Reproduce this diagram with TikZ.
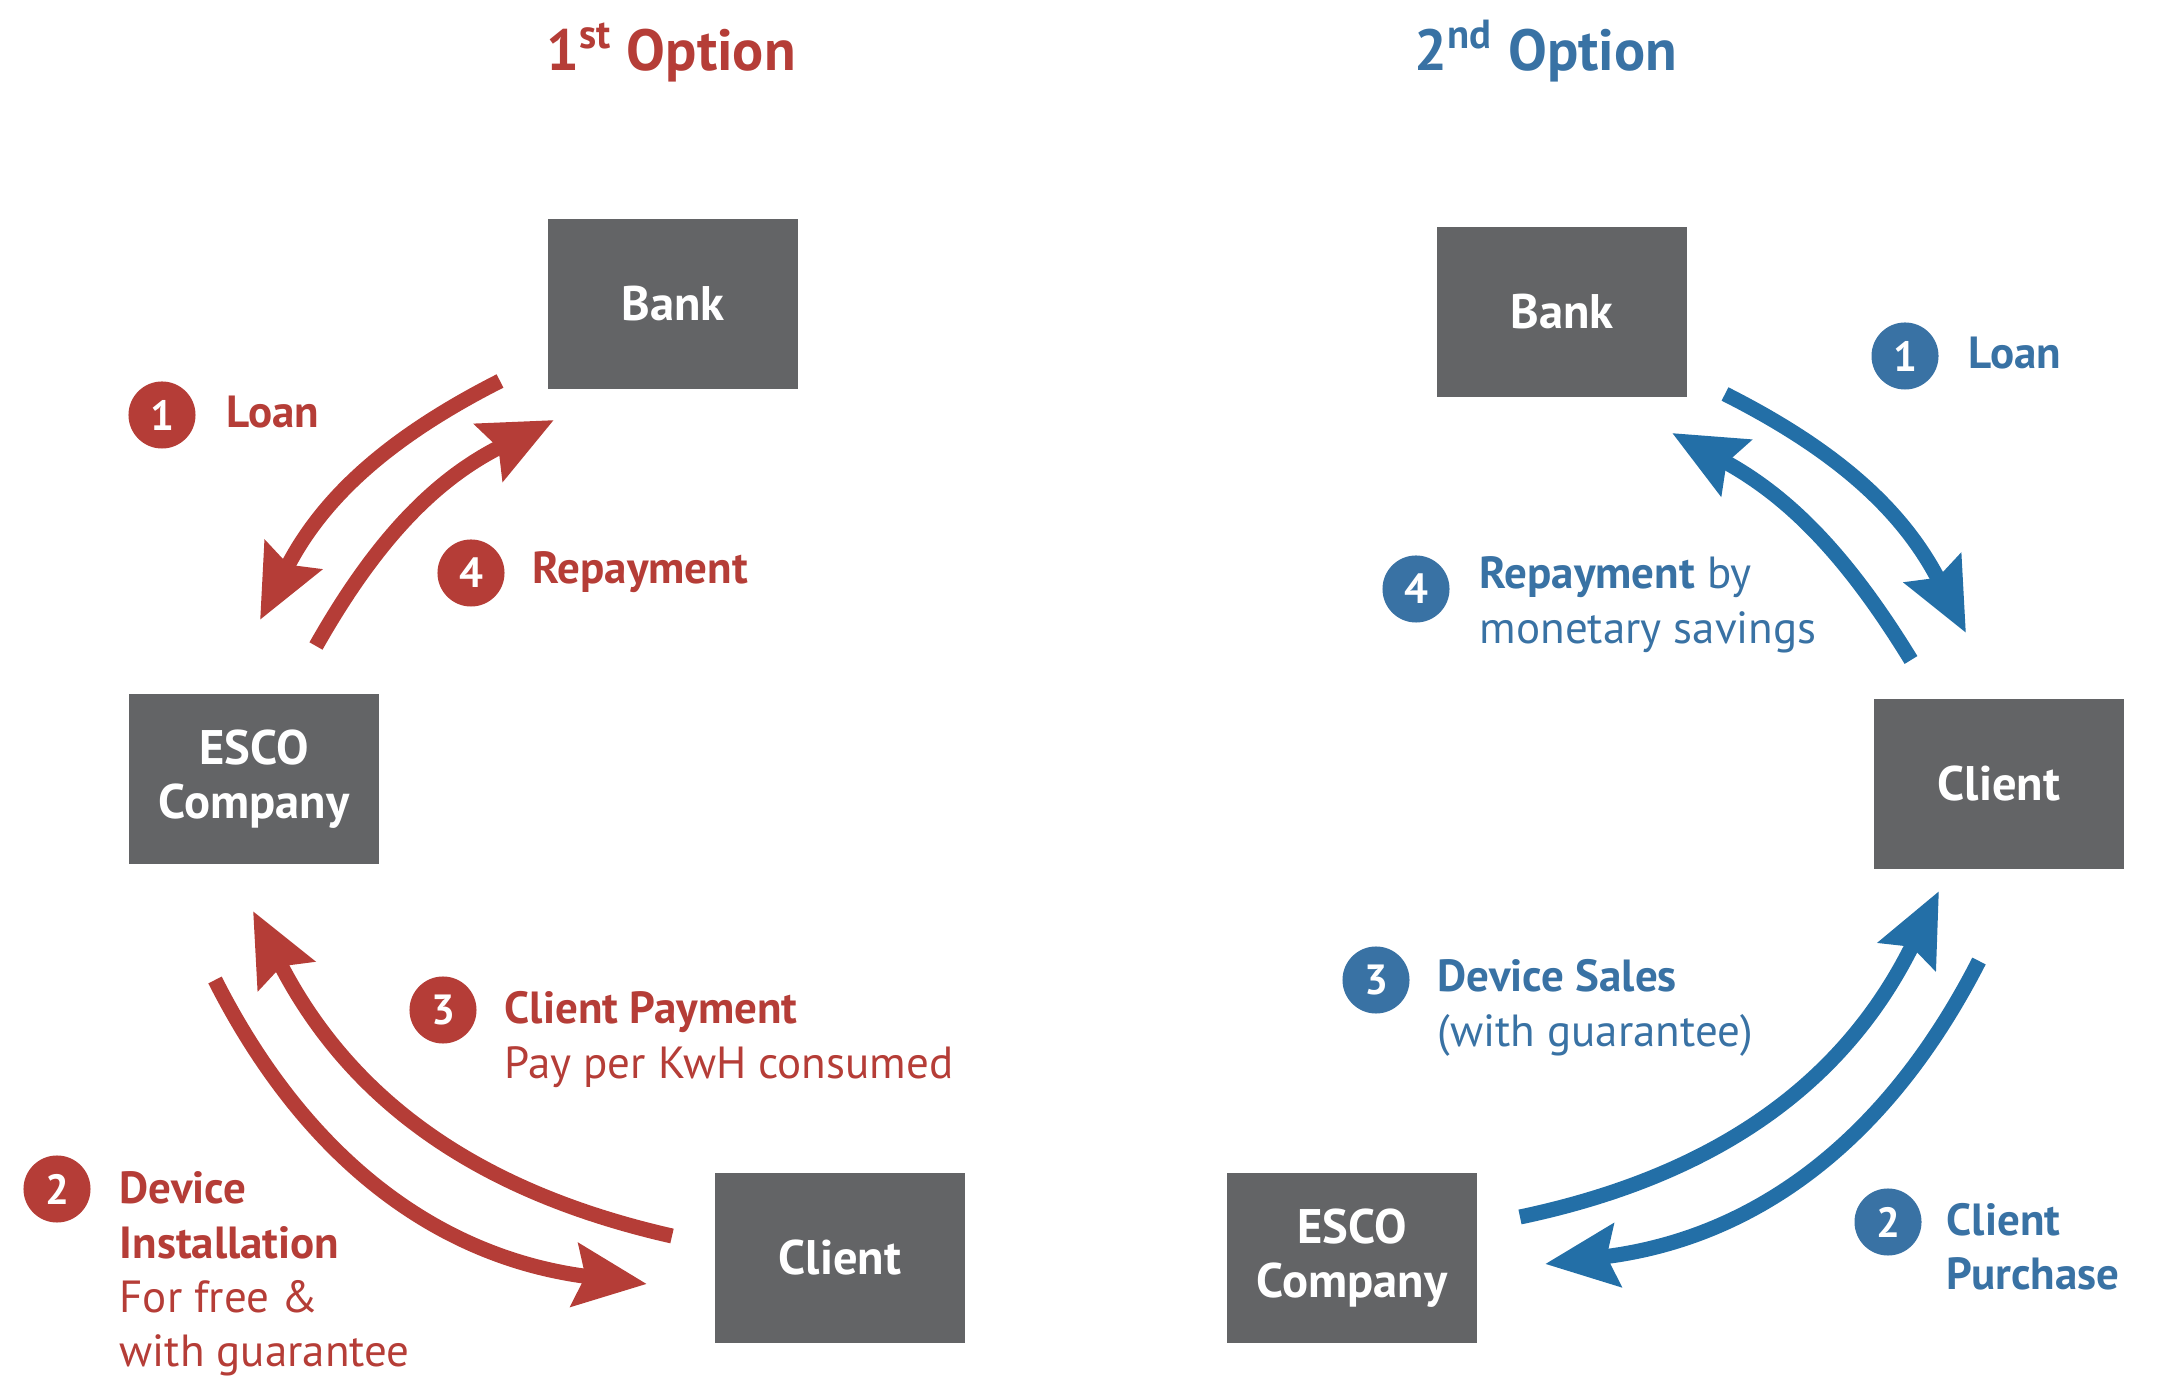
\documentclass[tikz,border=0pt]{standalone}
\usepackage{fontspec}
\setmainfont{PT Sans}
\usetikzlibrary{arrows.meta}
\definecolor{optred}{HTML}{B53D37}
\definecolor{optblue}{HTML}{236FA7}
\definecolor{txtblue}{HTML}{3972A4}
\definecolor{boxgray}{HTML}{636466}
\begin{document}
\begin{tikzpicture}[x=0.01cm, y=0.01cm]
  \tikzstyle{boxnode}=[rectangle, fill=boxgray, text=white, minimum width=2.5cm, minimum height=1.7cm, inner sep=0pt, align=center, font=\fontsize{13.8}{15.4}\selectfont\bfseries]
  \tikzstyle{numnode}=[circle, minimum size=0.67cm, inner sep=0pt, text=white, font=\fontsize{12}{14}\selectfont\bfseries]
  \tikzstyle{lblnode}=[anchor=base west, inner sep=0pt, font=\fontsize{12.8}{15.4}\selectfont]
  \tikzstyle{titlenode}=[anchor=base, inner sep=0pt, font=\fontsize{16.5}{19}\selectfont\bfseries]
  \tikzstyle{flow}=[line width=0.15cm, -{Stealth[length=0.72cm, width=0.62cm, inset=0.1cm]}]
  \useasboundingbox (0,0) rectangle (2157,-1392);

  % Titles
  \node[titlenode, text=optred] (title1) at (671,-71) {1\textsuperscript{st} Option};
  \node[titlenode, text=txtblue] (title2) at (1546,-71) {2\textsuperscript{nd} Option};

  % Node definitions, 1st option
  \node[boxnode] (lbank) at (673,-304) {Bank};
  \node[boxnode] (lesco) at (254,-779) {ESCO\\Company};
  \node[boxnode] (lclient) at (840,-1258) {Client};

  % Node definitions, 2nd option
  \node[boxnode] (rbank) at (1562,-312) {Bank};
  \node[boxnode] (rclient) at (1999,-784) {Client};
  \node[boxnode] (resco) at (1352,-1258) {ESCO\\Company};

  % Step numbers and labels, 1st option
  \node[numnode, fill=optred] (lnum1) at (162,-415) {1};
  \node[lblnode, text=optred] (lloan) at (226,-428) {\bfseries Loan};
  \node[numnode, fill=optred] (lnum4) at (471,-573) {4};
  \node[lblnode, text=optred] (lrepay) at (532,-584) {\bfseries Repayment};
  \node[numnode, fill=optred] (lnum3) at (443,-1010) {3};
  \node[lblnode, text=optred] (lpay) at (504,-1024) {\begin{tabular}[t]{@{}l@{}}\bfseries Client Payment\\Pay per KwH consumed\end{tabular}};
  \node[numnode, fill=optred] (lnum2) at (57,-1189) {2};
  \node[lblnode, text=optred] (linstall) at (119,-1204) {\begin{tabular}[t]{@{}l@{}}\bfseries Device\\\bfseries Installation\\For free \&\\with guarantee\end{tabular}};

  % Step numbers and labels, 2nd option
  \node[numnode, fill=txtblue] (rnum1) at (1905,-356) {1};
  \node[lblnode, text=txtblue] (rloan) at (1968,-369) {\bfseries Loan};
  \node[numnode, fill=txtblue] (rnum4) at (1416,-589) {4};
  \node[lblnode, text=txtblue] (rrepay) at (1479,-589) {\begin{tabular}[t]{@{}l@{}}{\bfseries Repayment} by\\monetary savings\end{tabular}};
  \node[numnode, fill=txtblue] (rnum3) at (1376,-980) {3};
  \node[lblnode, text=txtblue] (rsales) at (1437,-992) {\begin{tabular}[t]{@{}l@{}}\bfseries Device Sales\\(with guarantee)\end{tabular}};
  \node[numnode, fill=txtblue] (rnum2) at (1888,-1222) {2};
  \node[lblnode, text=txtblue] (rpurchase) at (1946,-1235) {\begin{tabular}[t]{@{}l@{}}\bfseries Client\\\bfseries Purchase\end{tabular}};

  % Arrow ends
  \coordinate (la1) at (500,-381);  \coordinate (lb1) at (260,-620);
  \coordinate (la4) at (316,-646);  \coordinate (lb4) at (554,-420);
  \coordinate (la3) at (672,-1236); \coordinate (lb3) at (253,-911);
  \coordinate (la2) at (215,-980);  \coordinate (lb2) at (647,-1284);
  \coordinate (ra1) at (1725,-394); \coordinate (rb1) at (1966,-633);
  \coordinate (ra4) at (1911,-660); \coordinate (rb4) at (1672,-433);
  \coordinate (ra3) at (1520,-1217); \coordinate (rb3) at (1939,-891);
  \coordinate (ra2) at (1979,-961); \coordinate (rb2) at (1545,-1264);

  % Edge definitions
  \draw[flow, optred] (la1) to[bend right=18] (lb1);
  \draw[flow, optred] (la4) to[bend left=17] (lb4);
  \draw[flow, optred] (la3) to[bend left=25] (lb3);
  \draw[flow, optred] (la2) to[bend right=28] (lb2);
  \draw[flow, optblue] (ra1) to[bend left=18] (rb1);
  \draw[flow, optblue] (ra4) to[bend right=15] (rb4);
  \draw[flow, optblue] (ra3) to[bend right=26] (rb3);
  \draw[flow, optblue] (ra2) to[bend left=28] (rb2);
\end{tikzpicture}
\end{document}
